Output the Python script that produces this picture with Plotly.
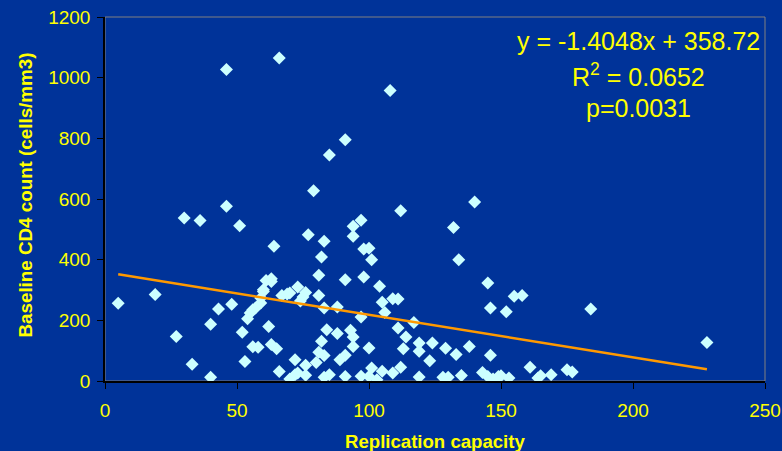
import plotly.graph_objects as go

# Replication capacity (x) and baseline CD4 count (y)
rep_capacity = [
    46, 66, 108, 91, 85, 79, 140, 46, 112, 30, 36, 97, 94, 51, 132, 94, 77, 83, 64, 98, 100, 101, 82, 134,
    5, 19, 27, 33, 40, 40, 43, 48,
    52, 53, 54, 55, 56, 57, 59, 59, 60, 60, 56, 58, 62, 63, 65, 66,
    61, 63, 63, 67, 69, 70, 73, 76, 75, 74, 81, 81, 91, 98, 104, 145, 146, 155, 158, 152, 184, 228,
    83, 88, 105, 109, 111, 106, 97, 117, 111, 114, 113, 119, 124, 119, 123, 129, 133, 138, 146,
    82, 84, 88, 93, 94, 94, 100, 81, 83, 89, 91, 72, 76, 80,
    70, 72, 73, 76, 83, 85, 91, 97, 100, 101, 103, 105, 109, 112, 119, 128, 130, 135, 143, 145,
    147, 149, 150, 153, 161, 164, 165, 169, 175, 177,
]
cd4_count = [
    1027, 1065, 958, 795, 745, 627, 590, 576, 561, 537, 529, 530, 510, 512, 506, 477, 482, 461, 444, 435, 438, 400, 409, 400,
    256, 285, 147, 55, 12, 187, 237, 253,
    161, 64, 205, 224, 235, 241, 257, 274, 295, 301, 113, 111, 180, 120, 106, 31,
    331, 337, 328, 282, 287, 290, 310, 292, 277, 264, 282, 349, 334, 343, 312, 323, 241, 279, 282, 228, 237, 127,
    241, 244, 260, 271, 270, 226, 211, 193, 175, 145, 106, 125, 125, 98, 67, 108, 87, 114, 85,
    131, 169, 157, 167, 145, 114, 109, 95, 84, 70, 85, 70, 52, 61,
    7, 21, 26, 19, 12, 21, 15, 16, 15, 43, 4, 32, 26, 45, 13, 12, 12, 18, 28, 15,
    7, 15, 17, 10, 45, 10, 17, 21, 37, 30,
]

slope = -1.4048
intercept = 358.72
fit_labels = ["y = -1.4048x + 358.72", "R<sup>2</sup> = 0.0652", "p=0.0031"]

x_ticks = [0, 50, 100, 150, 200, 250]
y_ticks = [0, 200, 400, 600, 800, 1000, 1200]
x_title = "Replication capacity"
y_title = "Baseline CD4 count (cells/mm3)"

BG = "#003399"
YELLOW = "#FFFF00"
FONT = "Arial, Liberation Sans, sans-serif"

x_fit = [min(rep_capacity), max(rep_capacity)]
y_fit = [slope * v + intercept for v in x_fit]

fig = go.Figure()
fig.add_trace(go.Scatter(
    x=rep_capacity, y=cd4_count, mode="markers",
    marker=dict(symbol="diamond", size=10, color="#CCFFFF", line=dict(width=0)),
    showlegend=False, hoverinfo="x+y",
))
fig.add_trace(go.Scatter(
    x=x_fit, y=y_fit, mode="lines",
    line=dict(color="#FF9900", width=2.5),
    showlegend=False, hoverinfo="skip",
))

axis_common = dict(
    showgrid=False, zeroline=False, showline=True, linecolor="black", linewidth=1.5,
    ticks="outside", ticklen=6, tickcolor="black", tickwidth=1, automargin=False,
    tickfont=dict(family=FONT, size=19, color=YELLOW),
)
fig.update_xaxes(range=[0, 250], tickvals=x_ticks, ticklabelstandoff=5, **axis_common)
fig.update_yaxes(range=[0, 1200], tickvals=y_ticks, ticklabelstandoff=3, **axis_common)

fig.add_annotation(text="<b>" + x_title + "</b>", xref="paper", yref="paper",
                   x=0.5, y=-0.165, showarrow=False,
                   xanchor="center", yanchor="middle",
                   font=dict(family=FONT, size=18.6, color=YELLOW))
fig.add_annotation(text="<b>" + y_title + "</b>", xref="paper", yref="paper",
                   x=-0.121, y=0.51, textangle=-90, showarrow=False,
                   xanchor="center", yanchor="middle",
                   font=dict(family=FONT, size=18.8, color=YELLOW))

# grey plot-area border on top/right
fig.add_shape(type="rect", xref="paper", yref="paper", x0=0, x1=1, y0=0, y1=1,
              line=dict(color="#808080", width=1), layer="below")

ann_y = [0.934, 0.842, 0.751]
for txt, yy in zip(fit_labels, ann_y):
    fig.add_annotation(text=txt, xref="paper", yref="paper", x=0.809, y=yy,
                       showarrow=False, xanchor="center", yanchor="middle",
                       font=dict(family=FONT, size=25, color=YELLOW))

fig.update_layout(
    width=782, height=451,
    paper_bgcolor=BG, plot_bgcolor=BG,
    margin=dict(l=105, r=17, t=17, b=70, autoexpand=False),
)

fig.write_html("out.html", config={"displayModeBar": False},
               post_script="document.body.style.margin='0';document.body.style.overflow='hidden';document.body.style.background='#003399';")
